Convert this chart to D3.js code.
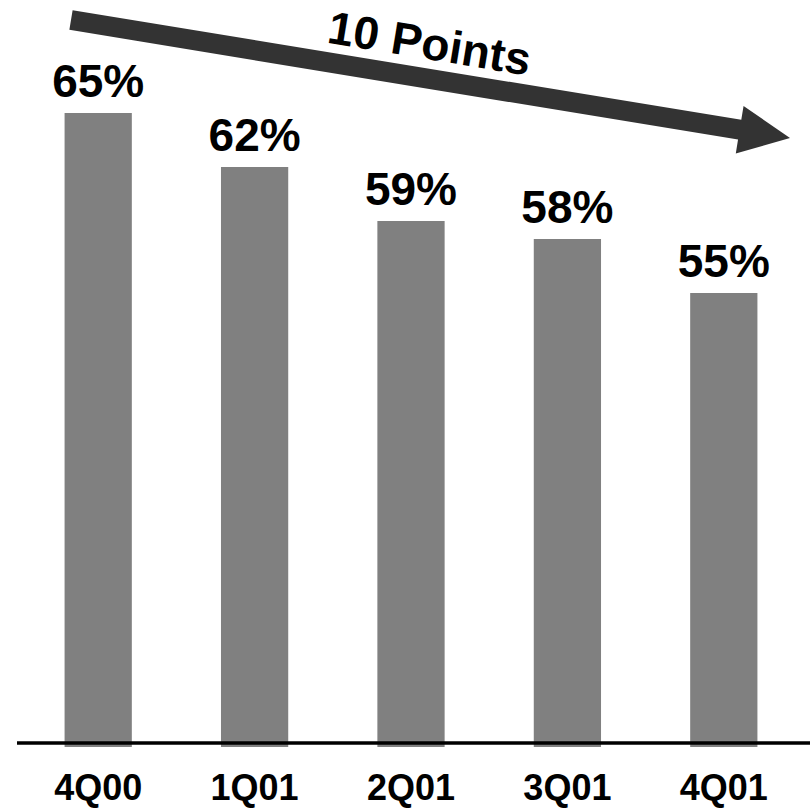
<!DOCTYPE html>
<html lang="en">
    <head>
        <meta charset="utf-8">
        <title>Quarterly share</title>
        <script type="text/javascript" src="https://cdn.jsdelivr.net/npm/d3@7"></script>
        <style type="text/css">
        body { margin: 0; background: #fff; }
        svg text { font-family: "Liberation Sans", Arial, sans-serif; font-weight: bold; fill: #000; }
        </style>
    </head>
    <body>
        <script type="text/javascript">

            //Width and height
            var w = 810;
            var h = 809;

            var quarters = ["4Q00", "1Q01", "2Q01", "3Q01", "4Q01"];
            var shares = [65, 62, 59, 58, 55];
            var arrowLabel = "10 Points";

            var baseY = 743;

            var xScale = d3.scaleBand()
                           .domain(quarters)
                           .range([20, 802])
                           .paddingInner(0.57)
                           .paddingOuter(0.285);

            // axis does not start at zero
            var yScale = d3.scaleLinear()
                           .domain([30, 65])
                           .range([baseY, 113]);

            var svg = d3.select("body")
                        .append("svg")
                        .attr("width", w)
                        .attr("height", h);

            //Bars
            svg.selectAll("rect.bar")
               .data(shares)
               .enter()
               .append("rect")
               .attr("class", "bar")
               .attr("x", function(d, i) { return xScale(quarters[i]); })
               .attr("y", function(d) { return yScale(d); })
               .attr("width", xScale.bandwidth())
               .attr("height", function(d) { return baseY + 4 - yScale(d); })
               .attr("fill", "#808080");

            //Baseline
            svg.append("line")
               .attr("x1", 17)
               .attr("x2", w)
               .attr("y1", baseY)
               .attr("y2", baseY)
               .attr("stroke", "#000")
               .attr("stroke-width", 3.5);

            //Value labels
            svg.selectAll("text.val")
               .data(shares)
               .enter()
               .append("text")
               .attr("class", "val")
               .attr("text-anchor", "middle")
               .attr("x", function(d, i) { return xScale(quarters[i]) + xScale.bandwidth() / 2; })
               .attr("y", function(d) { return yScale(d) - 16; })
               .attr("font-size", "46px")
               .text(function(d) { return d + "%"; });

            //Category labels
            svg.selectAll("text.cat")
               .data(quarters)
               .enter()
               .append("text")
               .attr("class", "cat")
               .attr("text-anchor", "middle")
               .attr("x", function(d) { return xScale(d) + xScale.bandwidth() / 2; })
               .attr("y", 800)
               .attr("font-size", "36px")
               .text(function(d) { return d; });

            //Trend arrow
            var x0 = 71, y0 = 20, x1 = 790, y1 = 138;
            var ang = Math.atan2(y1 - y0, x1 - x0);
            var len = Math.sqrt((x1 - x0) * (x1 - x0) + (y1 - y0) * (y1 - y0));
            var shaft = 10, head = 24, headLen = 51;

            var arrow = svg.append("g")
               .attr("transform", "translate(" + x0 + "," + y0 + ") rotate(" + (ang * 180 / Math.PI) + ")");

            arrow.append("path")
               .attr("d", "M0," + (-shaft) +
                          "L" + (len - headLen) + "," + (-shaft) +
                          "L" + (len - headLen) + "," + (-head) +
                          "L" + len + ",0" +
                          "L" + (len - headLen) + "," + head +
                          "L" + (len - headLen) + "," + shaft +
                          "L0," + shaft + "Z")
               .attr("fill", "#333333");

            svg.append("text")
               .attr("text-anchor", "middle")
               .attr("transform", "translate(427,59) rotate(" + (ang * 180 / Math.PI) + ")")
               .attr("font-size", "46px")
               .text(arrowLabel);

        </script>
    </body>
</html>
